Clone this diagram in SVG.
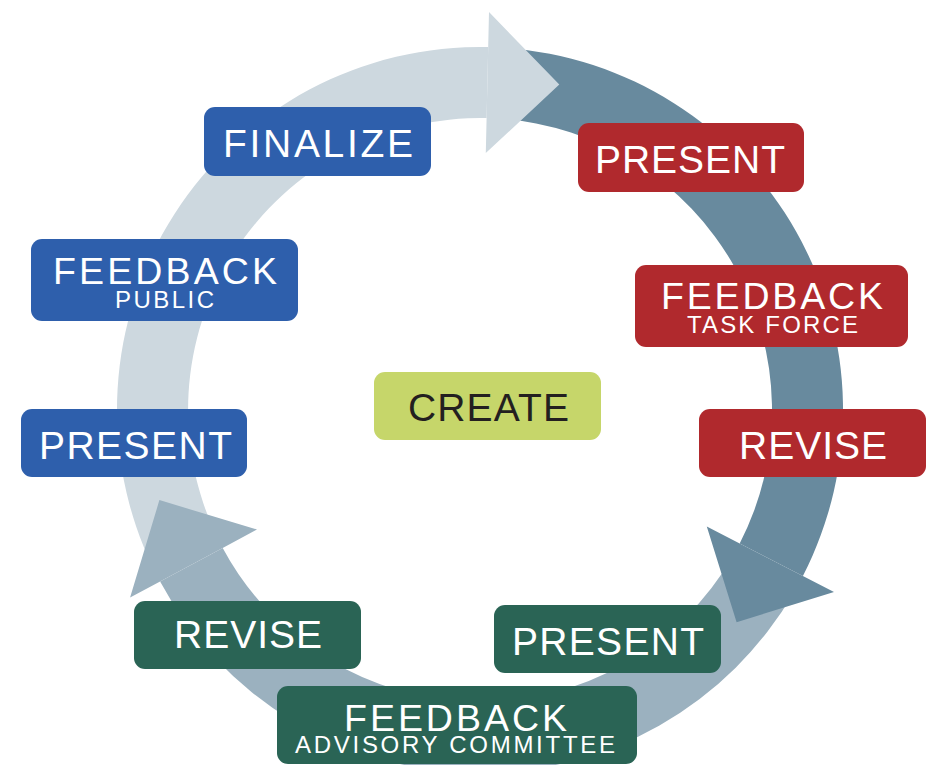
<svg xmlns="http://www.w3.org/2000/svg" width="928" height="765" viewBox="0 0 928 765">
<style>
.lt{fill:#cdd8df}.dk{fill:#688a9e}.md{fill:#9bb1bf}
.blue{fill:#2e5fac}.red{fill:#b0292d}.green{fill:#2a6455}.lime{fill:#c6d66a}
text{font-family:"Liberation Sans",Arial,sans-serif;text-anchor:middle;fill:#ffffff}
.big{font-size:39px}.mid{font-size:37.5px}.sm{font-size:24px}
.dark{fill:#231f20}
</style>
<rect width="928" height="765" fill="#ffffff"/>
<g id="connectors">
  <path class="lt" d="M153.7,569.1 A363,363 0 0 1 488.2,47.1 L486.6,118.1 A292,292 0 0 0 217.6,538.0 Z"/>
  <path class="dk" d="M505.3,47.9 A363,363 0 0 1 802.9,575.9 L739.7,543.5 A292,292 0 0 0 500.4,118.7 Z"/>
  <path class="md" d="M794.4,591.5 A363,363 0 0 1 160.1,581.5 L222.7,548.0 A292,292 0 0 0 732.9,556.0 Z"/>
  <polygon class="lt" points="488.2,47.1 489.0,12.1 559.3,84.5 485.8,153.1 486.6,118.1"/>
  <polygon class="dk" points="802.9,575.9 834.0,591.9 736.6,622.3 706.8,526.6 739.7,543.5"/>
  <polygon class="md" points="160.1,581.5 130.1,597.6 159.4,500.1 257.0,529.5 222.7,548.0"/>
</g>
<g id="node-create">
  <rect class="lime" x="374" y="372" width="227" height="68" rx="11"/>
  <text class="big dark" x="488.5" y="421" textLength="161" lengthAdjust="spacing">CREATE</text>
</g>
<g id="node-present-red">
  <rect class="red" x="578" y="123" width="226" height="69" rx="11"/>
  <text class="big" x="690" y="173" textLength="190" lengthAdjust="spacing">PRESENT</text>
</g>
<g id="node-feedback-taskforce">
  <rect class="red" x="635" y="265" width="273" height="82" rx="11"/>
  <text class="mid" x="772" y="309" textLength="222" lengthAdjust="spacing">FEEDBACK</text>
  <text class="sm" x="772.5" y="333" textLength="171" lengthAdjust="spacing">TASK FORCE</text>
</g>
<g id="node-revise-red">
  <rect class="red" x="699" y="409" width="227" height="68" rx="11"/>
  <text class="big" x="813" y="459" textLength="148" lengthAdjust="spacing">REVISE</text>
</g>
<g id="node-present-green">
  <rect class="green" x="494" y="605" width="227" height="68" rx="11"/>
  <text class="big" x="608" y="655" textLength="192" lengthAdjust="spacing">PRESENT</text>
</g>
<g id="node-feedback-advisory">
  <rect class="green" x="277" y="686" width="360" height="78" rx="11"/>
  <text class="mid" x="455.5" y="731" textLength="223" lengthAdjust="spacing">FEEDBACK</text>
  <text class="sm" x="455" y="753" textLength="320" lengthAdjust="spacing">ADVISORY COMMITTEE</text>
</g>
<g id="node-revise-green">
  <rect class="green" x="134" y="601" width="227" height="68" rx="11"/>
  <text class="big" x="248" y="648" textLength="148" lengthAdjust="spacing">REVISE</text>
</g>
<g id="node-present-blue">
  <rect class="blue" x="21" y="409" width="226" height="68" rx="11"/>
  <text class="big" x="135.5" y="459" textLength="193" lengthAdjust="spacing">PRESENT</text>
</g>
<g id="node-feedback-public">
  <rect class="blue" x="31" y="239" width="267" height="82" rx="11"/>
  <text class="mid" x="165" y="284" textLength="224" lengthAdjust="spacing">FEEDBACK</text>
  <text class="sm" x="164.5" y="308" textLength="99" lengthAdjust="spacing">PUBLIC</text>
</g>
<g id="node-finalize">
  <rect class="blue" x="204" y="107" width="227" height="69" rx="11"/>
  <text class="big" x="318" y="157" textLength="190" lengthAdjust="spacing">FINALIZE</text>
</g>
</svg>
